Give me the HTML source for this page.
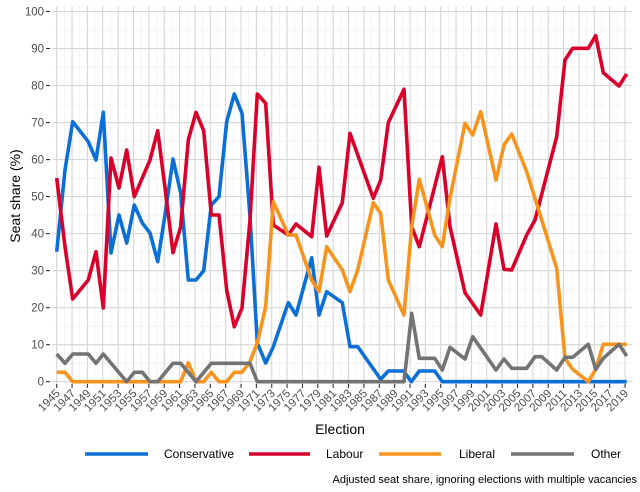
<!DOCTYPE html>
<html><head><meta charset="utf-8"><style>
html,body{margin:0;padding:0;background:#fff;}
svg{display:block;font-family:"Liberation Sans",sans-serif;}
</style></head><body>
<svg width="640" height="492" viewBox="0 0 640 492" xmlns="http://www.w3.org/2000/svg">
<g id="grid"></g>
<g id="data" fill="none" stroke-width="3.6" stroke-linejoin="round" stroke-linecap="butt">
<polyline stroke="#0b6fd6" points="56.7,251.7 65,170 72.7,121.7 88.3,141.7 96,160 103.3,112.3 111,253 119,215 126.7,243 134.3,205 142.3,223 150,233 157.7,261.7 165.3,213 173,159 180.7,193 188.3,280 196,280 203.7,270.7 211.3,205 219,196.7 226.7,121.7 234.3,94 242,113.3 250,216 257.3,343 265.7,363 273.3,346.7 288.3,302.7 296,315 311.7,257.7 319,315 326.7,291.7 342.3,302.7 350,346.7 357.7,346.7 380.7,379.3 388.3,371 403.7,371 411.3,381.7 419.3,371 434.7,371 442.3,381.7 626.7,381.7"/>
<polyline stroke="#d9002b" points="56.7,178 65,246.7 72.7,299 88.3,280 96,251.7 103.3,308 111,158 119,188 126.7,150 134.3,196.7 150,160 157.7,130.7 165.3,190 173,252.7 180.7,226.7 188.3,140 196,112.3 203.7,130.7 211.3,215 219,215 226.7,290 234.3,326.7 242,308 250,220 257.3,94 265.7,103.3 273.3,225 288.3,235 296,224 311.7,236.7 319,167.3 326.7,236 342.3,202.7 350,133.3 373.3,198.3 380.7,180 388.3,122.7 404,89.3 411.7,226.7 419.3,246.7 442.3,156.7 450,226.7 465,292.7 480.7,315 496,224 504,269.3 511.7,270 526.7,235 535,220 556.7,136.7 565,60 572.7,48.3 588.3,48.3 595.7,35.7 603.3,72.7 619,86 626.7,74"/>
<polyline stroke="#f7941d" points="56.7,372.3 65,372.3 72.7,381.7 180.7,381.7 188.3,362.7 196,381.7 203.7,381.7 211.3,372.3 219,381.7 226.7,381.7 234.3,372.3 242,372.3 250,361.7 257.3,343 265.7,306.7 273.3,201.7 288.3,235 296,235 311.7,280 319,291.7 326.7,246.7 342.3,270 350,291.7 357.7,270 373.3,202.7 380.7,213.3 388.3,280 404,315 411.7,226.7 419.3,179.3 434.7,235 442.3,246.7 450,198 465,123.3 472.7,135 480.7,111.7 496,180 504,145 511.7,134 526.7,171.7 556.7,268.3 565,358.3 572.7,369.3 588.3,381.7 595.7,369.3 603.3,344.3 626.7,344.3"/>
<polyline stroke="#737373" points="56.7,354 65,363.3 72.7,354 88.3,354 96,363.3 103.3,354 126.7,381.7 134.3,372.3 142.3,372.3 150,381.7 157.7,381.7 173,363.3 180.7,363.3 196,381.7 211.3,363.3 250,363.3 257.3,381.7 404,381.7 411.7,313.3 419.3,358.3 434.7,358.3 442.3,370 450,347.3 465,359 472.7,336.7 496,370 504,359 511.7,368.3 526.7,368.3 535,356.7 541.7,356.7 556.7,370 565,357.3 572.7,357.3 588.3,344.3 595.7,369.3 603.3,358.3 619,344.3 626.7,356"/>
</g>
<g id="axes" font-size="11.5" fill="#4d4d4d"></g>
<text x="340" y="434" font-size="14" text-anchor="middle" fill="#000">Election</text>
<text transform="translate(20,196) rotate(-90)" font-size="14" text-anchor="middle" fill="#000">Seat share (%)</text>
<g stroke-width="3.6">
<line x1="85" y1="454" x2="148" y2="454" stroke="#0b6fd6"/>
<line x1="249" y1="454" x2="310" y2="454" stroke="#d9002b"/>
<line x1="379" y1="454" x2="441" y2="454" stroke="#f7941d"/>
<line x1="511" y1="454" x2="574" y2="454" stroke="#737373"/>
</g>
<g font-size="12" fill="#000">
<text x="164" y="458">Conservative</text>
<text x="326" y="458">Labour</text>
<text x="459" y="458">Liberal</text>
<text x="591" y="458">Other</text>
</g>
<text x="637" y="483" font-size="11" text-anchor="end" fill="#000">Adjusted seat share, ignoring elections with multiple vacancies</text>
<script>
var ns="http://www.w3.org/2000/svg";
var g=document.getElementById("grid"),a=document.getElementById("axes");
function X(y){return 56.7+(y-1945)*7.68;}
function Y(v){return 381.7-v*3.702;}
function el(p,n,at){var e=document.createElementNS(ns,n);for(var k in at)e.setAttribute(k,at[k]);p.appendChild(e);return e;}
for(var v=5;v<=95;v+=10)el(g,"line",{x1:52,x2:632,y1:Y(v),y2:Y(v),stroke:"#ececec","stroke-width":0.6});
for(var yr=1946;yr<=2018;yr+=2)el(g,"line",{x1:X(yr),x2:X(yr),y1:6,y2:386,stroke:"#ececec","stroke-width":0.6});
for(var v=0;v<=100;v+=10){el(g,"line",{x1:52,x2:632,y1:Y(v),y2:Y(v),stroke:"#d6d6d6","stroke-width":1.1});
el(a,"line",{x1:46,x2:50,y1:Y(v),y2:Y(v),stroke:"#333","stroke-width":1.1});
var t=el(a,"text",{x:44,y:Y(v)+4,"text-anchor":"end"});t.textContent=v;}
for(var yr=1945;yr<=2019;yr+=2){el(g,"line",{x1:X(yr),x2:X(yr),y1:6,y2:386,stroke:"#d6d6d6","stroke-width":1.1});
el(a,"line",{x1:X(yr),x2:X(yr),y1:384,y2:388,stroke:"#333","stroke-width":1.1});
var t=el(a,"text",{transform:"translate("+(X(yr)+4)+",394) rotate(-45)","text-anchor":"end"});t.textContent=yr;}
</script>
</svg>
</body></html>
